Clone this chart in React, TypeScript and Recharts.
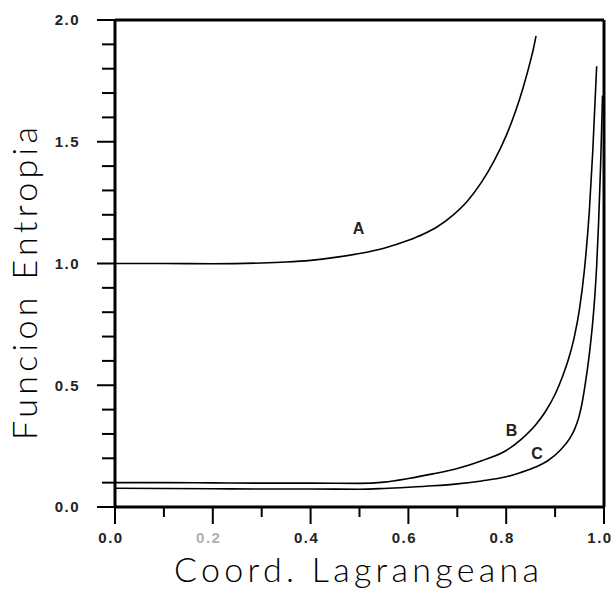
import React from 'react';
import { LineChart, Line, XAxis, YAxis, ReferenceLine, ReferenceDot } from 'recharts';

// ---- data ----
const xTickValues = [0, 0.1, 0.2, 0.3, 0.4, 0.5, 0.6, 0.7, 0.8, 0.9, 1.0];
const yTickValues = [0, 0.1, 0.2, 0.3, 0.4, 0.5, 0.6, 0.7, 0.8, 0.9, 1.0, 1.1, 1.2, 1.3, 1.4, 1.5, 1.6, 1.7, 1.8, 1.9, 2.0];
const xTickLabels = ['0.0', '0.2', '0.4', '0.6', '0.8', '1.0'];
const yTickLabels = ['0.0', '0.5', '1.0', '1.5', '2.0'];

const aX = [0, 0.1, 0.2, 0.3, 0.35, 0.4, 0.45, 0.5, 0.55, 0.6, 0.63, 0.66, 0.69, 0.72, 0.75, 0.775, 0.8, 0.82, 0.835, 0.85, 0.856, 0.861];
const aY = [1.0, 1.0, 0.999, 1.002, 1.006, 1.013, 1.025, 1.041, 1.063, 1.095, 1.12, 1.152, 1.197, 1.255, 1.335, 1.42, 1.525, 1.63, 1.725, 1.835, 1.885, 1.935];

const bX = [0, 0.1, 0.2, 0.3, 0.4, 0.5, 0.55, 0.6, 0.65, 0.7, 0.75, 0.8, 0.83, 0.86, 0.88, 0.9, 0.915, 0.93, 0.94, 0.95, 0.96, 0.97, 0.977, 0.985];
const bY = [0.1, 0.1, 0.099, 0.098, 0.098, 0.097, 0.102, 0.117, 0.136, 0.158, 0.19, 0.232, 0.277, 0.337, 0.391, 0.463, 0.535, 0.625, 0.705, 0.815, 0.975, 1.215, 1.46, 1.81];

const cX = [0, 0.1, 0.2, 0.3, 0.4, 0.5, 0.55, 0.6, 0.65, 0.7, 0.75, 0.8, 0.83, 0.86, 0.885, 0.91, 0.93, 0.94, 0.948, 0.955, 0.962, 0.968, 0.973, 0.977, 0.981, 0.985, 0.989, 0.993, 0.997];
const cY = [0.077, 0.076, 0.075, 0.074, 0.074, 0.073, 0.076, 0.081, 0.087, 0.095, 0.107, 0.124, 0.142, 0.164, 0.19, 0.232, 0.282, 0.32, 0.365, 0.425, 0.51, 0.595, 0.68, 0.76, 0.86, 0.99, 1.17, 1.4, 1.69];

const curveNames = ['A', 'B', 'C'];
const curveLabelX = [0.498, 0.811, 0.863];
const curveLabelY = [1.146, 0.316, 0.222];

const xTitle = 'Coord. Lagrangeana';
const yTitle = 'Funcion Entropia';

const toPts = (xs: number[], ys: number[]) => xs.map((x, i) => ({ x, y: ys[i] }));
const dataA = toPts(aX, aY);
const dataB = toPts(bX, bY);
const dataC = toPts(cX, cY);

const TICK_FONT = '"Liberation Sans", Arial, sans-serif';
const TITLE_FONT = 'Lato, "DejaVu Sans", sans-serif';

const XTick = (props: any) => {
  const { x, y, payload } = props;
  const v = payload.value;
  const k = Math.round(v * 10);
  const major = k % 2 === 0;
  const label = major ? xTickLabels[k / 2] : null;
  return (
    <g>
      <line x1={x} x2={x} y1={y} y2={y + (major ? 17 : 10)} stroke="#000" strokeWidth={2} />
      {label && (
        <text x={x - 4} y={y + 36} textAnchor="middle" fontFamily={TICK_FONT} fontSize={15} fontWeight={700}
          fill={label === '0.2' ? '#b0b0b0' : '#222'} letterSpacing={1.5}>
          {label}
        </text>
      )}
    </g>
  );
};

const YTick = (props: any) => {
  const { x, y, payload } = props;
  const v = payload.value;
  const k = Math.round(v * 10);
  const major = k % 5 === 0;
  const label = major ? yTickLabels[k / 5] : null;
  return (
    <g>
      <line x1={x} x2={x - (major ? 18 : 13)} y1={y} y2={y} stroke="#000" strokeWidth={2} />
      {label && (
        <text x={x - 35} y={y} dy="0.36em" textAnchor="end" fontFamily={TICK_FONT} fontSize={15} fontWeight={700}
          fill="#222" letterSpacing={1.5}>
          {label}
        </text>
      )}
    </g>
  );
};

const XTitle = (props: any) => {
  const vb = props.viewBox;
  const cx = vb.x + vb.width / 2 - 3;
  return (
    <text x={cx} y={vb.y + 75} textAnchor="middle" fontFamily={TITLE_FONT} fontWeight={300}
      fontSize={34} fill="#000" textLength={365} lengthAdjust="spacing">
      {xTitle}
    </text>
  );
};

const YTitle = (props: any) => {
  const vb = props.viewBox;
  const cy = vb.y + vb.height / 2 + 20;
  const cx = 37;
  return (
    <text x={cx} y={cy} transform={`rotate(-90 ${cx} ${cy})`} textAnchor="middle" fontFamily={TITLE_FONT}
      fontWeight={300} fontSize={34} fill="#000" textLength={313} lengthAdjust="spacing">
      {yTitle}
    </text>
  );
};

const curves = [dataA, dataB, dataC];

export default function App() {
  return (
    <div style={{ position: 'absolute', left: 0, top: 0, background: '#fff' }}>
      <LineChart width={616} height={590} margin={{ top: 20, right: 12, bottom: 0, left: 0 }}>
        <XAxis
          type="number"
          dataKey="x"
          domain={[0, 1]}
          ticks={xTickValues}
          interval={0}
          height={83}
          tickSize={0}
          tickMargin={0}
          tickLine={false}
          axisLine={{ stroke: '#000', strokeWidth: 3 }}
          tick={<XTick />}
          label={{ content: <XTitle /> } as any}
          allowDataOverflow
        />
        <YAxis
          type="number"
          dataKey="y"
          domain={[0, 2]}
          ticks={yTickValues}
          interval={0}
          width={115}
          tickSize={0}
          tickMargin={0}
          tickLine={false}
          axisLine={{ stroke: '#000', strokeWidth: 3 }}
          tick={<YTick />}
          label={{ content: <YTitle /> } as any}
          allowDataOverflow
        />
        <ReferenceLine y={2} stroke="#000" strokeWidth={3} />
        <ReferenceLine x={1} stroke="#000" strokeWidth={3} />
        {curves.map((d, i) => (
          <Line key={curveNames[i]} data={d} dataKey="y" type="monotone" stroke="#000" strokeWidth={1.6}
            dot={false} activeDot={false} isAnimationActive={false} />
        ))}
        {curveNames.map((n, i) => (
          <ReferenceDot key={'lbl' + n} x={curveLabelX[i]} y={curveLabelY[i]} r={0} fill="none" stroke="none"
            label={{ value: n, position: 'center', fontFamily: TICK_FONT, fontSize: 16, fontWeight: 700, fill: '#222' }} />
        ))}
      </LineChart>
    </div>
  );
}
